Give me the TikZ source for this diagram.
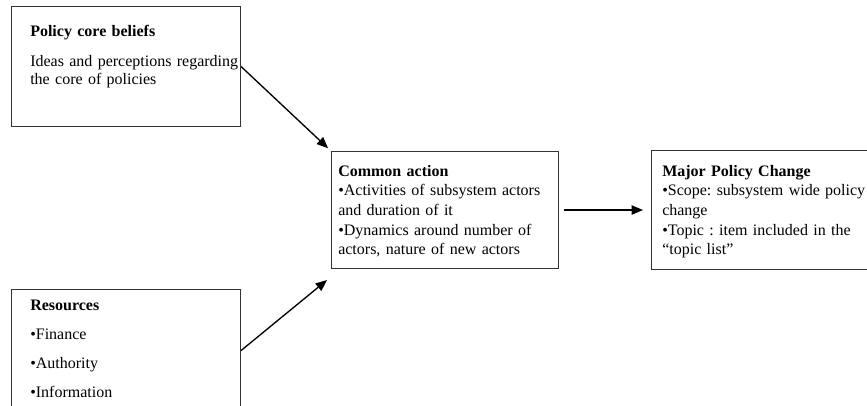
\documentclass[tikz,border=0pt]{standalone}
\usepackage{fontspec}
\setmainfont{Liberation Serif}
\usetikzlibrary{arrows.meta,calc}
\frenchspacing

\begin{document}
\begin{tikzpicture}[x=0.75pt, y=-0.75pt,
  box/.style={draw=black!80, line width=0.8pt, rectangle, inner sep=0pt, anchor=north west},
  boxtext/.style={anchor=base west, inner sep=0pt, align=left, text width=200pt},
  link/.style={line width=1pt, -{Triangle[length=8.5pt, width=7pt]}}]

  % page frame
  \useasboundingbox (0,0) rectangle (867,406);
  \fill[white] (0,0) rectangle (867,406);

  % boxes
  \node[box, minimum width=229*0.75pt, minimum height=120*0.75pt] (b1) at (11,6) {};
  \node[box, minimum width=227*0.75pt, minimum height=117*0.75pt] (b2) at (331,151) {};
  \node[box, minimum width=222*0.75pt, minimum height=119*0.75pt] (b3) at (651,150) {};
  \node[box, minimum width=229*0.75pt, minimum height=122*0.75pt] (b4) at (11,289) {};

  % box contents
  \node[boxtext, font=\fontsize{12}{13.1}\selectfont] (t1) at (30,37)
    {\textbf{Policy core beliefs}\\[9.4pt]
     Ideas and perceptions regarding\\
     the core of policies};

  \node[boxtext, font=\fontsize{12}{14.8}\selectfont] (t2) at (338,176)
    {\textbf{Common action}\\
     \makebox[157pt][s]{\textbullet Activities of subsystem actors}\\
     and duration of it\\
     \makebox[157pt][s]{\textbullet Dynamics around number of}\\
     actors, nature of new actors};

  \node[boxtext, font=\fontsize{12}{14.8}\selectfont] (t3) at (662,176)
    {\textbf{Major Policy Change}\\
     \textbullet Scope: subsystem wide policy\\
     change\\
     \textbullet Topic : item included in the\\
     ``topic list''};

  \node[boxtext, font=\fontsize{12}{21.75}\selectfont] (t4) at (30,310)
    {\textbf{Resources}\\
     \textbullet Finance\\
     \textbullet Authority\\
     \textbullet Information};

  % connectors
  \coordinate (e2) at ($(b2.south west)+(-4,11)$);
  \draw[link, shorten >=3pt] (b1.east) -- (b2.north west);
  \draw[link] (b4.east) -- (e2);
  \draw[link, shorten <=3.5pt, shorten >=6pt] (b2.east) -- (b3.west);
\end{tikzpicture}
\end{document}
